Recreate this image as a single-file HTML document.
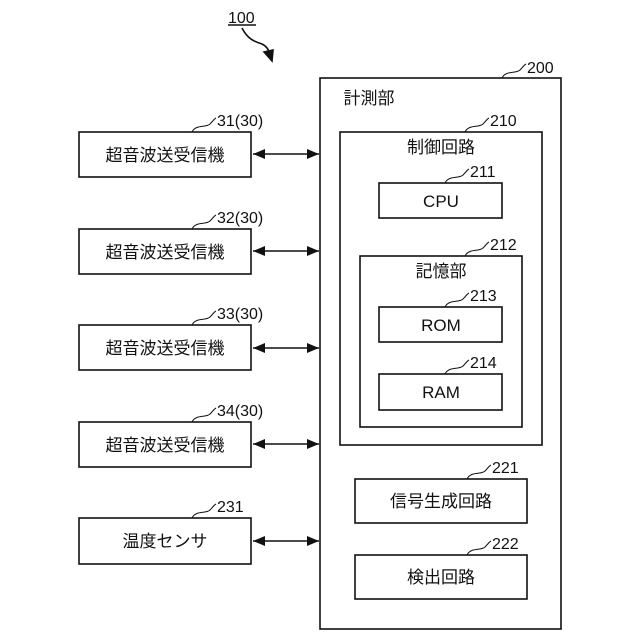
<!DOCTYPE html>
<html><head><meta charset="utf-8"><style>
html,body{margin:0;padding:0;background:#fff;}
svg{display:block;}
text{font-family:"Liberation Sans","Noto Sans CJK JP",sans-serif;fill:#111;}
</style></head><body>
<svg width="640" height="640" viewBox="0 0 640 640" xmlns="http://www.w3.org/2000/svg">
<defs>
<marker id="a" viewBox="0 0 12 10" refX="12" refY="5" markerWidth="12" markerHeight="10" orient="auto-start-reverse" markerUnits="userSpaceOnUse"><path d="M0,0 L12,5 L0,10 z" fill="#111"/></marker>
</defs>
<g fill="none" stroke="#111" stroke-width="1.6">
<line x1="228" y1="25" x2="256" y2="25"/>
<path d="M242,28 C248,40 256,42 262,44 C268,47 270,52 270,58"/>
<path d="M264,52 L272,61 L273,50 z" fill="#111"/>
<rect x="79" y="132" width="172" height="45"/>
<rect x="79" y="229" width="172" height="45"/>
<rect x="79" y="325" width="172" height="45"/>
<rect x="79" y="422" width="172" height="45"/>
<rect x="79" y="518" width="172" height="46"/>
<line x1="253" y1="154" x2="319" y2="154" marker-start="url(#a)" marker-end="url(#a)"/>
<line x1="253" y1="251" x2="319" y2="251" marker-start="url(#a)" marker-end="url(#a)"/>
<line x1="253" y1="348" x2="319" y2="348" marker-start="url(#a)" marker-end="url(#a)"/>
<line x1="253" y1="444" x2="319" y2="444" marker-start="url(#a)" marker-end="url(#a)"/>
<line x1="253" y1="541" x2="319" y2="541" marker-start="url(#a)" marker-end="url(#a)"/>
<rect x="320" y="78" width="241" height="551"/>
<rect x="340" y="132" width="202" height="313"/>
<rect x="379" y="183" width="123" height="35"/>
<rect x="360" y="256" width="162" height="171"/>
<rect x="379" y="307" width="123" height="35"/>
<rect x="379" y="374" width="123" height="36"/>
<rect x="355" y="479" width="172" height="44"/>
<rect x="355" y="555" width="172" height="44"/>
</g>
<g fill="none" stroke="#111" stroke-width="1">
<path d="M192,132 C196,124 206,128 210,124 C213,121 214,119 216,118"/>
<path d="M192,229 C196,221 206,225 210,221 C213,218 214,216 216,215"/>
<path d="M192,325 C196,317 206,321 210,317 C213,314 214,312 216,311"/>
<path d="M192,422 C196,414 206,418 210,414 C213,411 214,409 216,408"/>
<path d="M192,518 C196,510 206,514 210,510 C213,507 214,505 216,504"/>
<path d="M502,78 C506,70 516,74 520,70 C523,67 524,65 526,64"/>
<path d="M465,132 C469,124 479,128 483,124 C486,121 487,119 489,118"/>
<path d="M445,183 C449,175 459,179 463,175 C466,172 467,170 469,169"/>
<path d="M465,256 C469,248 479,252 483,248 C486,245 487,243 489,242"/>
<path d="M445,307 C449,299 459,303 463,299 C466,296 467,294 469,293"/>
<path d="M445,374 C449,366 459,370 463,366 C466,363 467,361 469,360"/>
<path d="M467,479 C471,471 481,475 485,471 C488,468 489,466 491,465"/>
<path d="M467,555 C471,547 481,551 485,547 C488,544 489,542 491,541"/>
</g>
<g font-size="16">
<text x="228" y="23">100</text>
<text x="217" y="126">31(30)</text>
<text x="217" y="223">32(30)</text>
<text x="217" y="319">33(30)</text>
<text x="217" y="416">34(30)</text>
<text x="217" y="512">231</text>
<text x="527" y="73">200</text>
<text x="490" y="126">210</text>
<text x="470" y="177">211</text>
<text x="490" y="250">212</text>
<text x="470" y="301">213</text>
<text x="470" y="368">214</text>
<text x="492" y="473">221</text>
<text x="492" y="549">222</text>
</g>
<g font-size="17" text-anchor="middle">
<text x="165" y="161">超音波送受信機</text>
<text x="165" y="258">超音波送受信機</text>
<text x="165" y="354">超音波送受信機</text>
<text x="165" y="451">超音波送受信機</text>
<text x="165" y="547">温度センサ</text>
<text x="369" y="104">計測部</text>
<text x="441" y="153">制御回路</text>
<text x="441" y="207">CPU</text>
<text x="441" y="277">記憶部</text>
<text x="441" y="331">ROM</text>
<text x="441" y="398">RAM</text>
<text x="441" y="507">信号生成回路</text>
<text x="441" y="583">検出回路</text>
</g>
</svg>
</body></html>
